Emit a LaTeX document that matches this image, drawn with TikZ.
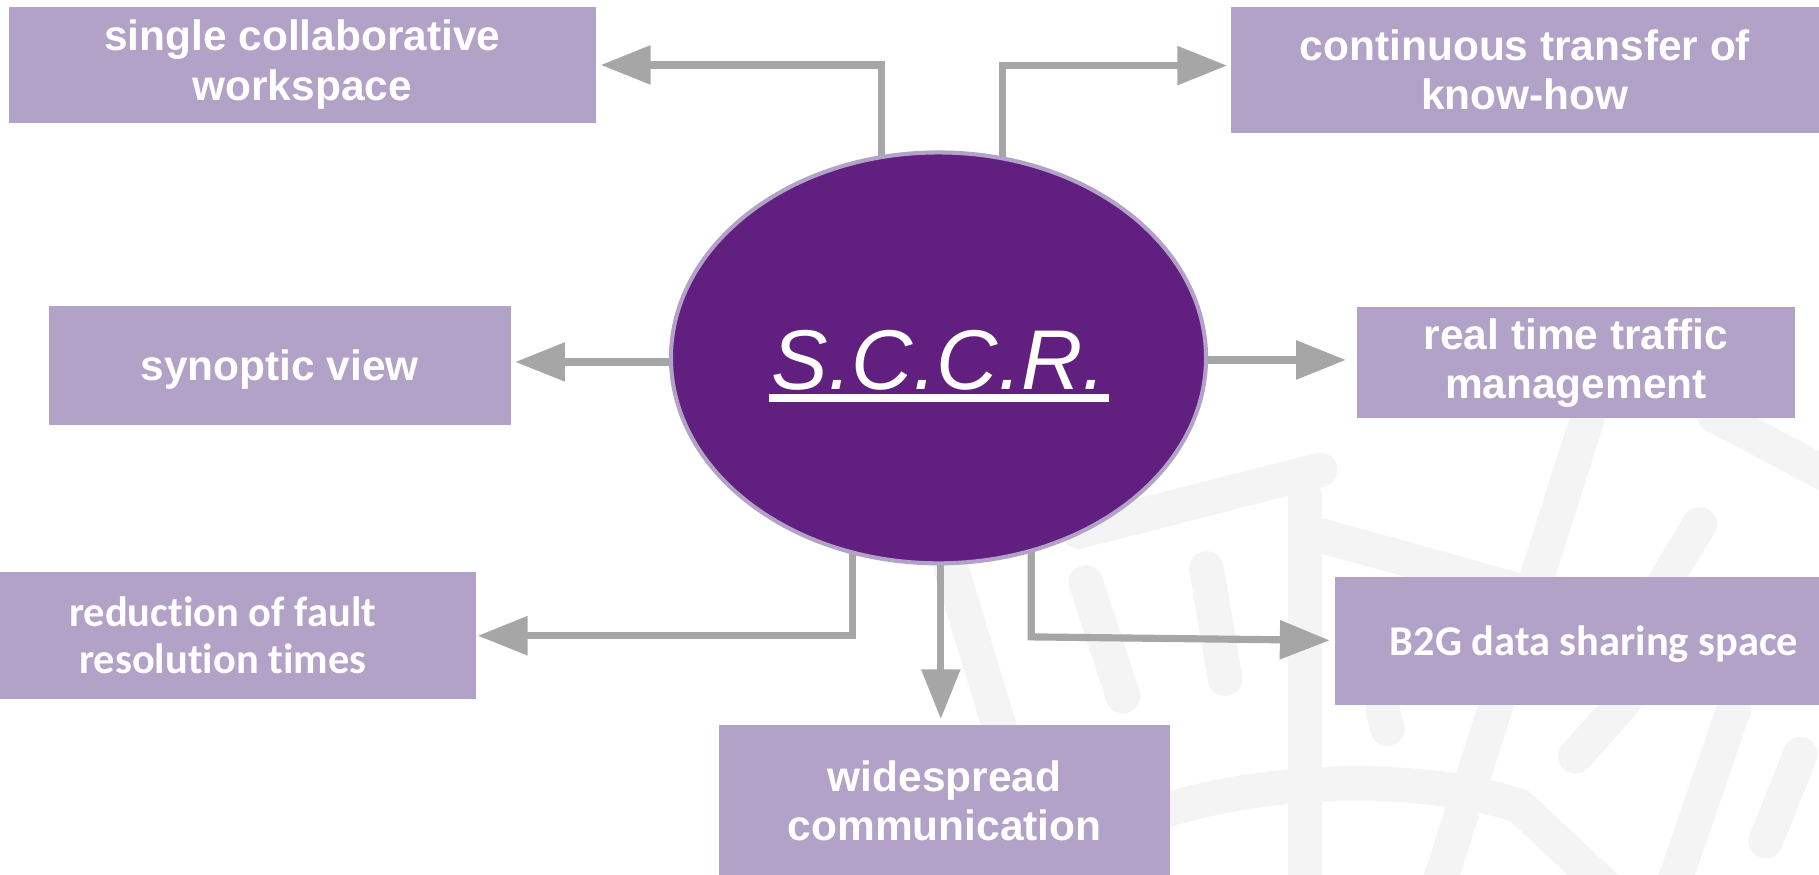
\documentclass[tikz,border=0pt]{standalone}
\usepackage{fontspec}
\setmainfont{Liberation Sans}
\newfontfamily\carl[Ligatures=NoCommon]{Carlito}
\usetikzlibrary{arrows.meta,calc,shapes.geometric}
\definecolor{boxc}{HTML}{B3A2C7}
\definecolor{ellc}{HTML}{612080}
\definecolor{arrc}{HTML}{A6A6A6}
\definecolor{wmc}{HTML}{F4F4F4}
\pgfdeclarelayer{wm}
\pgfdeclarelayer{bg}
\pgfsetlayers{wm,bg,main}
\begin{document}
\begin{tikzpicture}[x=0.01cm,y=-0.01cm,
  box/.style={fill=boxc, text=white, inner sep=0pt, align=center,
    font=\bfseries\fontsize{10.4}{12.1}\selectfont},
  cbox/.style={box, font=\carl\bfseries\fontsize{10.4}{11.45}\selectfont},
  arr/.style={draw=arrc, line width=1.75pt, -{Triangle[length=12.2pt,width=9.2pt]}},
  wml/.style={draw=wmc, line width=8.5pt, line cap=round}]
\useasboundingbox (0,0) rectangle (1568,754);

% central ellipse
\node[ellipse, fill=ellc, draw=boxc, line width=1pt, inner sep=0pt,
  minimum width=4.61cm, minimum height=3.54cm] (e) at (809,308.5) {};
\node[anchor=base, text=white, inner sep=0pt,
  font=\itshape\fontsize{20.8}{24}\selectfont] (t) at (809.5,335.5) {S.C.C.R.};
\draw[white, line width=1.85pt] ($(t.base west)+(-1.5,7.75)$) -- ($(t.base east)+(1.5,7.75)$);

% boxes
\node[box, minimum width=5.06cm, minimum height=1.00cm] (b1) at (260.5,55.75)
  {single collaborative\\workspace};
\node[box, minimum width=5.06cm, minimum height=1.087cm] (b2) at (1314.6,60.05)
  {continuous transfer of\\know-how};
\node[box, text depth=0pt, minimum width=3.98cm, minimum height=1.02cm] (b3) at (241,315)
  {synoptic view};
\node[box, minimum width=3.77cm, minimum height=0.956cm] (b4) at (1358.5,312.8)
  {real time traffic\\management};
\node[cbox, minimum width=4.36cm, minimum height=1.10cm] (b5) at (192,547.75)
  {reduction of fault\\resolution times};
\node[box, minimum width=3.885cm, minimum height=1.31cm] (b6) at (814.25,690.5)
  {widespread\\communication};
\node[cbox, text depth=0pt, minimum width=4.46cm, minimum height=1.11cm] (b7) at (1374,552.5)
  {B2G data sharing space};

% connectors
\begin{pgfonlayer}{bg}
\draw[arr] ($(e.center)+(-49.5,0)$) |- ($(b1.east)+(3.5,0.25)$);
\draw[arr] ($(e.center)+(55.5,0)$) |- ($(b2.west)+(-3,-3.5)$);
\draw[arr] ($(e.center)+(0,3.5)$) -- ($(b3.east)+(3.3,-3)$);
\draw[arr] ($(e.center)+(0,1.8)$) -- ($(b4.west)+(-9,-2.5)$);
\draw[arr] ($(e.center)+(-74.4,0)$) |- ($(b5.east)+(1,0.25)$);
\draw[arr] ($(e.center)+(2,0)$) -- ($(b6.north)+(-3.25,-4.4)$);
\draw[arr] ($(e.center)+(80,0)$) -- ($(e.center)+(80,240.5)$) -- ($(b7.west)+(-4,-0.5)$);
\end{pgfonlayer}

% faint watermark
\begin{pgfonlayer}{wm}
\draw[wml] (930,458) -- (1138,405);
\draw[wml] (1125,428) -- (1125,770);
\draw[wml] (1140,462) -- (1320,512);
\draw[wml] (1368,362) -- (1238,770);
\draw[wml] (1478,358) -- (1580,412);
\draw[wml] (1465,452) -- (1400,560);
\draw[wml] (1400,605) -- (1358,652);
\draw[wml] (936,502) -- (968,600);
\draw[wml] (1040,490) -- (1056,585);
\draw[wml] (1192,612) -- (1196,628);
\draw[wml] (1000,700) .. controls (1100,668) and (1230,668) .. (1310,695) -- (1390,770);
\draw[wml] (1552,650) -- (1522,725);
\draw[wml] (1495,610) -- (1440,770);
\draw[wml] (820,490) -- (905,770);
\end{pgfonlayer}
\end{tikzpicture}
\end{document}
